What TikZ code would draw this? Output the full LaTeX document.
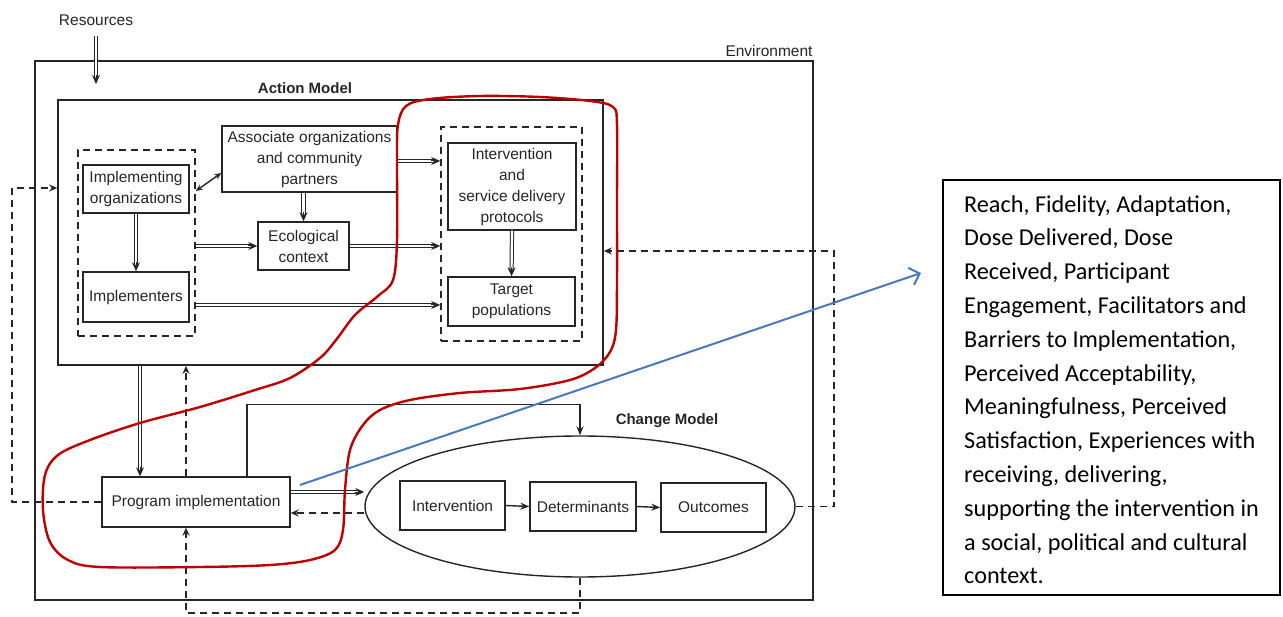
\documentclass[tikz,border=0pt]{standalone}
\usepackage{fontspec}
\setmainfont{Liberation Sans}
\newfontfamily\calibri{Carlito}
\usetikzlibrary{arrows.meta,shapes.geometric,calc}
\definecolor{ink}{HTML}{262626}
\definecolor{redloop}{HTML}{C00000}
\definecolor{bluearr}{HTML}{4A78C0}
\newcommand\dblarr[2]{\draw[dblshaft] #1 -- #2; \draw[dbltip] ($#2!9pt!#1$) -- #2;}
\begin{document}
\begin{tikzpicture}[x=1pt,y=-1pt,
  box/.style={draw=ink, line width=1.4pt, rectangle, inner sep=0pt, align=center, text=ink, font=\fontsize{15.5}{21}\selectfont},
  dbox/.style={draw=ink, line width=1.5pt, dash pattern=on 7pt off 5pt, rectangle, inner sep=0pt},
  frame/.style={draw=ink, line width=1.6pt, rectangle, inner sep=0pt},
  dblshaft/.style={draw=ink, double=white, double distance=2.2pt, line width=1pt, shorten >=5pt},
  dbltip/.style={draw=ink, line width=1pt, -{Stealth[length=9pt,width=8pt]}},
  dsh/.style={draw=ink, line width=1.4pt, dash pattern=on 7pt off 5pt, -{Stealth[length=8pt,width=7pt]}},
  sar/.style={draw=ink, line width=1.4pt, -{Stealth[length=9pt,width=7pt]}},
  lbl/.style={font=\fontsize{15.5}{17}\selectfont, text=ink, inner sep=0pt},
  blbl/.style={font=\bfseries\fontsize{15}{17}\selectfont, text=ink, inner sep=0pt},
]
\useasboundingbox (0,0) rectangle (1283,617);

% frames
\node[frame, minimum width=778pt, minimum height=539pt] (env) at (424,330.5) {};
\node[frame, minimum width=545pt, minimum height=265pt] (am) at (330.5,232.5) {};
\node[dbox, minimum width=117pt, minimum height=186pt] (dl) at (136.5,243) {};
\node[dbox, minimum width=141pt, minimum height=214pt] (dr) at (511.5,234) {};
\node[draw=ink, line width=1.4pt, ellipse, minimum width=430pt, minimum height=141pt, inner sep=0pt] (cm) at (580,506.5) {};

% labels
\node[lbl] (res) at (96,20) {Resources};
\node[lbl] (envl) at (769,51) {Environment};
\node[blbl] (aml) at (305,88) {Action Model};
\node[blbl] (cml) at (667,421) {Change Model};

% boxes
\node[box, minimum width=106pt, minimum height=48pt] (io) at (136,189) {Implementing\\organizations};
\node[box, minimum width=106pt, minimum height=50pt] (impl) at (136,297) {Implementers};
\node[box, minimum width=175pt, minimum height=66pt] (assoc) at (309.5,159) {Associate organizations\\and community\\partners};
\node[box, minimum width=91pt, minimum height=48pt] (eco) at (303.5,246) {Ecological\\context};
\node[box, minimum width=128pt, minimum height=87pt] (isdp) at (512,186.5) {Intervention\\and\\service delivery\\protocols};
\node[box, minimum width=127pt, minimum height=49pt] (tp) at (511.5,301.5) {Target\\populations};
\node[box, minimum width=188pt, minimum height=50pt] (pi) at (196,502) {Program implementation};
\node[box, minimum width=105pt, minimum height=49pt] (iv) at (452.5,505.5) {Intervention};
\node[box, minimum width=106pt, minimum height=49pt] (det) at (583,506.5) {Determinants};
\node[box, minimum width=105pt, minimum height=49pt] (out) at (713.5,507.5) {Outcomes};

% connectors
\coordinate (resstart) at (96,36);
\coordinate (resend) at (96,84);
\dblarr{(resstart)}{(resend)}
\draw[draw=ink, line width=1.4pt, {Stealth[length=7pt,width=6pt]}-{Stealth[length=7pt,width=6pt]}] (dl.east |- 0,191) -- (assoc.west |- 0,173);
\dblarr{(io.south)}{(impl.north)}
\dblarr{(eco.north |- assoc.south)}{(eco.north)}
\dblarr{(dl.east |- eco.west)}{(eco.west)}
\dblarr{(eco.east)}{(dr.west |- eco.east)}
\dblarr{(assoc.east |- 0,161)}{(dr.west |- 0,161)}
\dblarr{(dl.east |- 0,305)}{(dr.west |- 0,305)}
\dblarr{(isdp.south)}{(tp.north)}
\dblarr{(am.south -| 140,0)}{(pi.north -| 140,0)}
\dblarr{(pi.east |- 0,492)}{(cm.west |- 0,492)}
\draw[dsh] (pi.north -| 186,0) -- (am.south -| 186,0);
\draw[dsh] (cm.south) -- (cm.south |- 0,613) -| (pi.south -| 186,0);
\draw[dsh] (cm.west |- 0,513) -- (pi.east |- 0,513);
\draw[sar] (pi.north -| 247,0) -- ++(0,-72) -| (cm.north);
\draw[dsh] (pi.west) -| (12,188) -- (am.west |- 0,188);
\draw[dsh] (cm.east) -| (834,251) -- (am.east |- 0,251);
\draw[sar] (iv.east) -- (det.west);
\draw[sar] (det.east) -- (out.west);

% red hand-drawn loop
\draw[redloop, line width=2.4pt] plot[smooth cycle, tension=0.55] coordinates {
(397,240) (397,160) (398,125) (406,106) (430,99) (480,96) (540,97) (590,101) (613,107) (617,125)
(617,200) (617,280) (616,330) (610,352) (595,368) (570,380) (520,389) (460,393) (410,400) (380,410)
(363,425) (350,450) (345,490) (343,530) (335,550) (310,560) (270,565) (200,567) (100,567) (68,560)
(50,542) (43,510) (45,475) (58,455) (90,440) (140,423) (200,407) (255,390) (290,378) (320,358)
(336,340) (355,315) (378,296) (393,280)};

% text box
\node[draw=black, line width=1.3pt, minimum width=337pt, minimum height=415pt, inner sep=0pt] (tbox) at (1111.5,387.5) {};
\node[anchor=north west, inner sep=0pt, align=left, font=\calibri\fontsize{24.2}{33.8}\selectfont] (ttext) at (964,195) {Reach, Fidelity, Adaptation,\\Dose Delivered, Dose\\Received, Participant\\Engagement, Facilitators and\\Barriers to Implementation,\\Perceived Acceptability,\\Meaningfulness, Perceived\\Satisfaction, Experiences with\\receiving, delivering,\\supporting the intervention in\\a social, political and cultural\\context.};

% blue arrow
\coordinate (bstart) at (300,485);
\coordinate (bend) at (921,273);
\draw[bluearr, line width=2pt, -{Straight Barb[length=9pt,width=18pt]}] (bstart) -- (bend);
\end{tikzpicture}
\end{document}
